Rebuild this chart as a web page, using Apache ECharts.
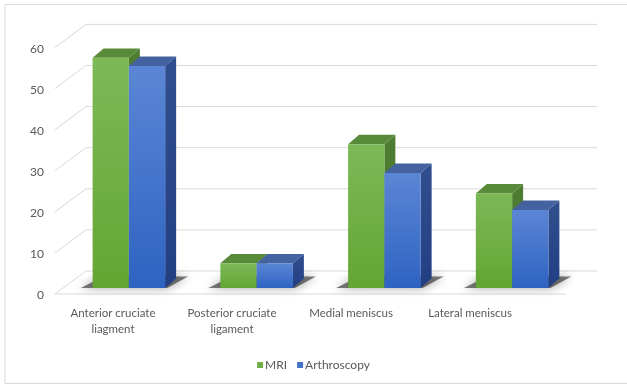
<!DOCTYPE html>
<html>
<head>
<meta charset="utf-8">
<script src="https://cdn.jsdelivr.net/npm/echarts@6/dist/echarts.min.js"></script>
<style>html,body{margin:0;padding:0;background:#fff}#c{width:627px;height:385px}</style>
</head>
<body>
<div id="c"></div>
<script>
var categories = ['Anterior cruciate\nliagment', 'Posterior cruciate\nligament', 'Medial meniscus', 'Lateral meniscus'];
var mriValues = [56, 6, 35, 23];
var arthroscopyValues = [54, 6, 28, 19];
var yTickValues = [0, 10, 20, 30, 40, 50, 60];

var FONT = 'Lato, "Open Sans", sans-serif';
var TXT = '#595959';
var GRIDC = '#d9d9d9';
var FRONT = [-10, 6], BACK = [21, -17];
var BAR_FRAC = 0.284;

var chart = echarts.init(document.getElementById('c'), null, {renderer: 'canvas'});

function wallsItem(params, api) {
  var band = api.size([1, 0])[0];
  var children = [];
  var n = categories.length;
  for (var i = 0; i < yTickValues.length; i++) {
    var v = yTickValues[i];
    var l = api.coord([0, v]);
    var r = api.coord([n - 1, v]);
    var lx = l[0] - band / 2, rx = r[0] + band / 2, y = l[1];
    children.push({type: 'line', shape: {x1: lx + BACK[0], y1: y + BACK[1], x2: rx + BACK[0], y2: y + BACK[1]}, style: {stroke: GRIDC, lineWidth: 1}});
    children.push({type: 'line', shape: {x1: lx + FRONT[0], y1: y + FRONT[1], x2: lx + BACK[0], y2: y + BACK[1]}, style: {stroke: GRIDC, lineWidth: 1}});
    if (v === 0) {
      children.push({type: 'line', shape: {x1: lx + FRONT[0], y1: y + FRONT[1], x2: rx + FRONT[0], y2: y + FRONT[1]}, style: {stroke: GRIDC, lineWidth: 1}});
    }
  }
  return {type: 'group', children: children};
}

function shadowItem(params, api) {
  var idx = api.value(0);
  var base = api.coord([idx, 0]);
  var band = api.size([1, 0])[0];
  var bw = band * BAR_FRAC;
  var x0 = base[0] - bw, x1 = base[0] + bw;
  var dx = band * 0.086, dy = -band * 0.074;
  var y = base[1];
  return {
    type: 'polygon',
    shape: {points: [[x0 - 12, y], [x1 + 2, y], [x1 + dx + 12, y + dy - 2], [x0 + dx, y + dy - 2]]},
    style: {fill: 'rgba(20,20,20,0.55)', shadowBlur: 10, shadowColor: 'rgba(0,0,0,0.7)'}
  };
}

function barRenderer(sIdx, pal) {
  return function (params, api) {
    var idx = api.value(0), v = api.value(1);
    var top = api.coord([idx, v]);
    var base = api.coord([idx, 0]);
    var band = api.size([1, 0])[0];
    var bw = band * BAR_FRAC;
    var x0 = top[0] - bw + sIdx * bw, x1 = x0 + bw;
    var dx = band * 0.086, dy = -band * 0.074;
    var ty = top[1], by = base[1];
    return {
      type: 'group',
      children: [
        {type: 'polygon', shape: {points: [[x1, ty], [x1 + dx, ty + dy], [x1 + dx, by + dy], [x1, by]]},
          style: {fill: new echarts.graphic.LinearGradient(0, 0, 0, 1, [{offset: 0, color: pal.side[0]}, {offset: 1, color: pal.side[1]}])}},
        {type: 'polygon', shape: {points: [[x0, ty], [x0 + dx, ty + dy], [x1 + dx, ty + dy], [x1, ty]]},
          style: {fill: pal.top}},
        {type: 'rect', shape: {x: x0, y: ty, width: bw, height: by - ty},
          style: {fill: new echarts.graphic.LinearGradient(0, 0, 0, 1, [{offset: 0, color: pal.front[0]}, {offset: 1, color: pal.front[1]}])}}
      ]
    };
  };
}

var greenPal = {front: ['#7cb957', '#63a633'], top: '#588a3a', side: ['#4f7e33', '#44722a']};
var bluePal = {front: ['#5b86d5', '#2f63c2'], top: '#43629f', side: ['#314e8e', '#233f84']};

function toData(arr) { return arr.map(function (v, i) { return [i, v]; }); }

chart.setOption({
  backgroundColor: '#fff',
  animation: false,
  textStyle: {fontFamily: FONT},
  graphic: [{type: 'rect', shape: {x: 5, y: 4.5, width: 640, height: 379}, style: {fill: 'none', stroke: GRIDC, lineWidth: 1}, silent: true}],
  legend: {
    data: ['MRI', 'Arthroscopy'],
    top: 354, left: 'center',
    itemWidth: 6, itemHeight: 6, itemGap: 10,
    icon: 'rect',
    textStyle: {color: TXT, fontSize: 12, fontFamily: FONT, padding: [0, 0, 0, -3]}
  },
  grid: [
    {left: 65, right: 51, top: 41.4, bottom: 97},
    {left: 53.5, right: 97.5, top: 41.4, bottom: 97}
  ],
  xAxis: [
    {type: 'category', gridIndex: 0, data: categories, axisLine: {show: false}, axisTick: {show: false}, axisLabel: {show: false}, splitLine: {show: false}},
    {type: 'category', gridIndex: 1, data: categories, axisLine: {show: false}, axisTick: {show: false},
      axisLabel: {show: true, color: TXT, fontSize: 11.5, lineHeight: 16, margin: 17, interval: 0, align: 'center', hideOverlap: false, fontFamily: FONT}, splitLine: {show: false}}
  ],
  yAxis: [
    {type: 'value', gridIndex: 0, min: 0, max: 60, interval: 10, axisLine: {show: false}, axisTick: {show: false}, splitLine: {show: false},
      axisLabel: {color: TXT, fontSize: 12, margin: 21, verticalAlign: 'top', lineHeight: 15, fontFamily: FONT}},
    {type: 'value', gridIndex: 1, min: 0, max: 60, interval: 10, show: false}
  ],
  series: [
    {type: 'custom', name: 'walls', xAxisIndex: 0, yAxisIndex: 0, data: [[0, 0]], renderItem: wallsItem, z: 1, silent: true},
    {type: 'custom', name: 'shadow', xAxisIndex: 0, yAxisIndex: 0, data: toData(mriValues), renderItem: shadowItem, z: 2, silent: true},
    {type: 'custom', name: 'MRI', xAxisIndex: 0, yAxisIndex: 0, data: toData(mriValues), renderItem: barRenderer(0, greenPal), z: 3, itemStyle: {color: '#70ad47'}},
    {type: 'custom', name: 'Arthroscopy', xAxisIndex: 0, yAxisIndex: 0, data: toData(arthroscopyValues), renderItem: barRenderer(1, bluePal), z: 4, itemStyle: {color: '#4472c4'}}
  ]
});
</script>
</body>
</html>
